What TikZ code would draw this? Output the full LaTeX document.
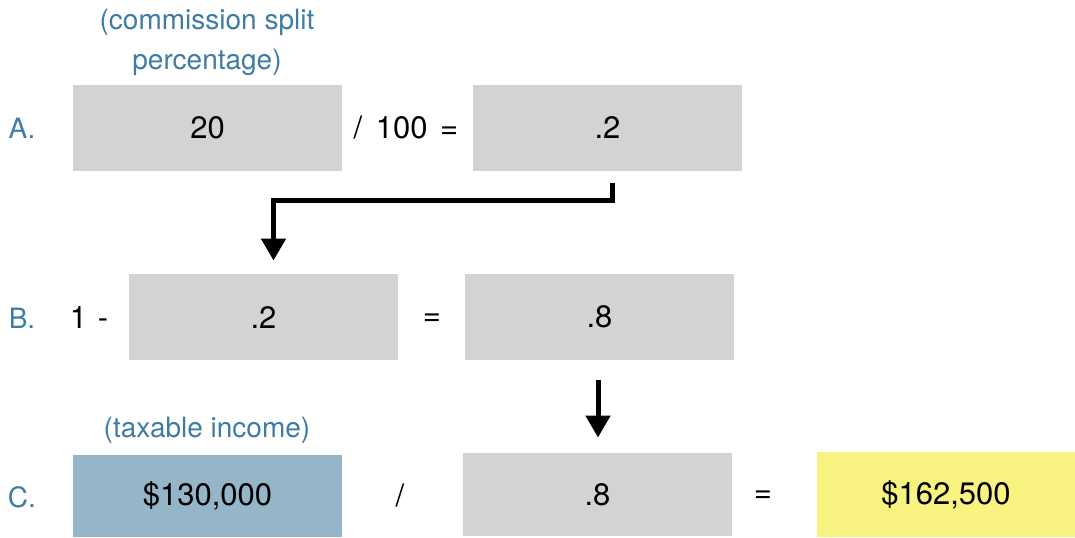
\documentclass[tikz,border=0pt]{standalone}
\usepackage{fontspec}
\setmainfont{TeX Gyre Heros}
\usepackage{tikz}
\usetikzlibrary{arrows.meta}
\definecolor{cellgray}{HTML}{D3D3D3}
\definecolor{labelblue}{HTML}{3E7CA3}
\definecolor{incomeblue}{HTML}{95B5C8}
\definecolor{resultyellow}{HTML}{F8F280}

\begin{document}
\begin{tikzpicture}
      [x = .5pt, y = -.5pt, line width = 2.5pt, font = \fontsize{15.5}{20}\selectfont,
       cell/.style = {fill = cellgray, minimum width = 134.5pt, minimum height = 43pt, inner sep = 0pt},
       note/.style = {text = labelblue, align = center, font = \fontsize{14}{20}\selectfont},
       flow/.style = {-{Triangle[length = 11pt, width = 12pt]}}]
      \useasboundingbox (0,0) rectangle (1075,537);
      \foreach \r/\y in {A/128, B/318, C/497}
        \node[note] (row\r) at (22,\y) {\r.};
      \node[note] (a1note) at (207,42) {(commission split\\percentage)};
      \node[note] (c1note) at (207,430) {(taxable income)};
      \node[cell] (a1) at (207.5,127.5) {20};
      \node (a1op) at (406,128) {/\hspace{2.5pt} 100\hspace{2pt} =};
      \node[cell] (a2) at (607.5,127.5) {.2};
      \node (b1op) at (89,317) {1\hspace{1pt} -};
      \node[cell] (b1) at (263.5,317) {.2};
      \node (b2op) at (432,320) {=};
      \node[cell] (b2) at (599.5,317) {.8};
      \node[cell, fill = incomeblue, minimum height = 41pt] (c1) at (207.5,496) {\$130,000};
      \node (c1op) at (400,495) {/};
      \node[cell, minimum height = 41.5pt] (c2) at (597.5,494.5) {.8};
      \node (c2op) at (763,497) {=};
      \node[cell, fill = resultyellow, minimum width = 129pt, minimum height = 42.5pt] (c3) at (946,494.5) {\$162,500};
      \coordinate (tick) at (612,183);
      \draw[flow, shorten >= 5.5pt] (tick) -- ++(0,17) -| ([xshift = 5pt]b1.north);
      \draw[flow, shorten <= 8.5pt, shorten >= 6.5pt] ([xshift = -.75pt]b2.south) -- ([xshift = -.75pt]b2.south |- c2.north);
      \end{tikzpicture}
\end{document}
